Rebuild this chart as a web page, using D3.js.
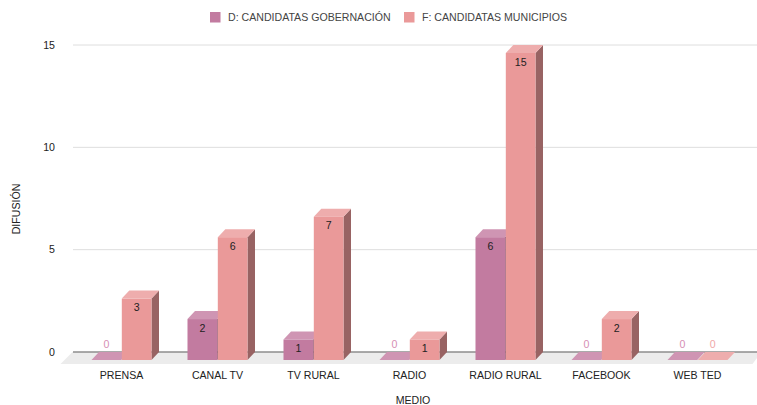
<!DOCTYPE html>
<html><head><meta charset="utf-8">
<script src="https://cdn.jsdelivr.net/npm/d3@7"></script>
<style>html,body{margin:0;padding:0;background:#fff}svg{display:block}text{font-family:"Liberation Sans",Arial,sans-serif;font-size:10.6px;fill:#222}</style>
</head><body><svg id="c" width="757" height="405"></svg>
<script>
const categories=["PRENSA","CANAL TV","TV RURAL","RADIO","RADIO RURAL","FACEBOOK","WEB TED"];
const seriesNames=["D: CANDIDATAS GOBERNACIÓN","F: CANDIDATAS MUNICIPIOS"];
const seriesD=[0,2,1,0,6,0,0];
const seriesF=[3,6,7,1,15,2,0];
const yTicks=[0,5,10,15];
const xTitle="MEDIO", yTitle="DIFUSIÓN";
const colors=["#c27ba0","#ea9999"], topColors=["#cf95b3","#eeadad"], sideColors=["#885670","#986363"], zeroLabel=["#d68fb5","#f0a8a8"];

const svg=d3.select("#c");
const dx=7.5,dy=8;
const x=d3.scaleBand().domain(categories).range([73.5,745.5]);
const inner=d3.scaleBand().domain([0,1]).range([0,60]).paddingInner(0.02);
const y=d3.scaleLinear().domain([0,15]).range([352,45]);

// floor
svg.append("path").attr("d",`M${x.range()[0]-13},364L${x.range()[0]-1},352H757V358L${x.range()[1]+7},364Z`).attr("fill","#ececec");
// grid
svg.selectAll(".g").data(yTicks).join("line")
 .attr("x1",73).attr("x2",757).attr("y1",d=>y(d)).attr("y2",d=>y(d))
 .attr("stroke",d=>d===0?"#8e8e8e":"#dedede").attr("stroke-width",d=>d===0?1.6:1);
// y ticks
svg.selectAll(".yt").data(yTicks).join("text").attr("x",55).attr("y",d=>y(d)).attr("dy","0.35em").attr("text-anchor","end").text(d=>d);
// cat labels
svg.selectAll(".xt").data(categories).join("text").attr("x",d=>x(d)+x.bandwidth()/2).attr("y",375).attr("dy","0.35em").attr("text-anchor","middle").text(d=>d);
svg.append("text").attr("x",413).attr("y",400).attr("dy","0.35em").attr("text-anchor","middle").text(xTitle);
svg.append("text").attr("transform","translate(16,209) rotate(-90)").attr("dy","0.35em").attr("text-anchor","middle").text(yTitle);

// bars
const pts=[];
[seriesD,seriesF].forEach((vals,s)=>vals.forEach((v,i)=>pts.push({v,s,c:categories[i]})));
const g=svg.append("g");
pts.forEach(p=>{
  const cx=x(p.c)+x.bandwidth()/2-30;
  const x0=cx+inner(p.s),x1=x0+inner.bandwidth();
  const base=y(0)+dy, top=y(p.v)+dy;
  p.xm=(x0+x1)/2;p.top=top;
  g.append("path").attr("d",`M${x1},${base}L${x1+dx},${base-dy}V${top-dy}L${x1},${top}Z`).attr("fill",sideColors[p.s]);
  g.append("path").attr("d",`M${x0},${top}L${x0+dx},${top-dy}H${x1+dx}L${x1},${top}Z`).attr("fill",topColors[p.s]);
  g.append("rect").attr("x",x0).attr("y",top).attr("width",x1-x0).attr("height",base-top).attr("fill",colors[p.s]);
});
// value labels
svg.selectAll(".vl").data(pts).join("text")
 .attr("x",d=>d.xm).attr("y",d=>d.v===0?344:d.top+9).attr("dy","0.35em").attr("text-anchor","middle")
 .style("fill",d=>d.v===0?zeroLabel[d.s]:"#222").text(d=>d.v);
// legend
const lx=[210,404];
const lg=svg.selectAll(".lg").data(seriesNames).join("g").attr("transform",(d,i)=>`translate(${lx[i]},0)`);
lg.append("rect").attr("y",12).attr("width",10.5).attr("height",10.5).attr("fill",(d,i)=>colors[i]);
lg.append("text").attr("x",18).attr("y",17).attr("dy","0.35em").style("fill","#444").text(d=>d);
</script></body></html>
